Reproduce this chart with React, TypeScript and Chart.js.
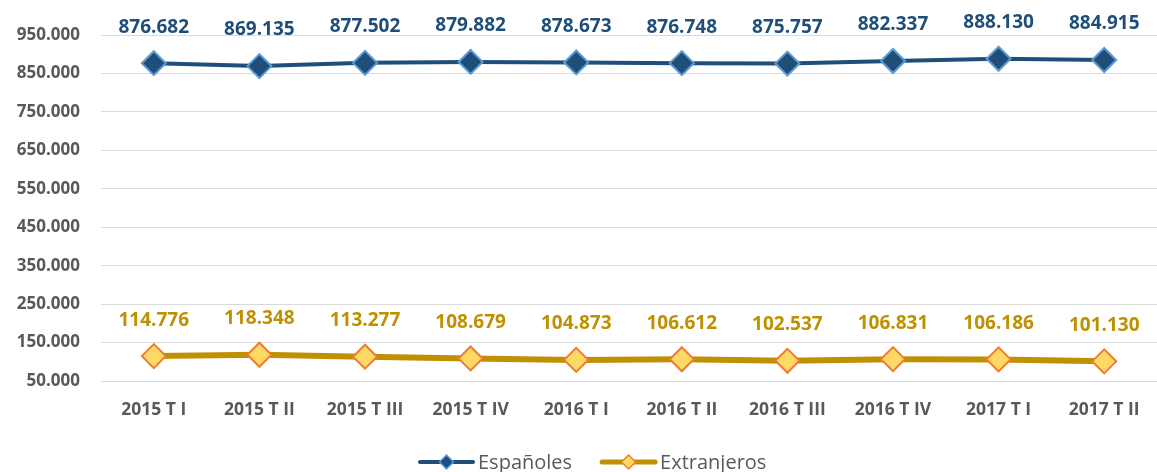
import React, { useEffect, useRef } from 'react';
import { Chart, registerables } from 'chart.js';

Chart.register(...registerables);

const categories = ['2015 T I', '2015 T II', '2015 T III', '2015 T IV', '2016 T I', '2016 T II', '2016 T III', '2016 T IV', '2017 T I', '2017 T II'];
const espanoles = [876682, 869135, 877502, 879882, 878673, 876748, 875757, 882337, 888130, 884915];
const extranjeros = [114776, 118348, 113277, 108679, 104873, 106612, 102537, 106831, 106186, 101130];
const seriesNames = ['Españoles', 'Extranjeros'];
const yMin = 50000;
const yMax = 950000;
const yStep = 100000;

const FONT = '"Open Sans", Lato, sans-serif';
const GRAY = '#595959';

const styles = [
  { line: '#1F4E79', fill: '#1F4E79', border: '#5B9BD5', width: 4 },
  { line: '#BF9000', fill: '#FFD966', border: '#ED7D31', width: 6 },
];
const labelColors = ['#1F4E79', '#BF9000'];

function fmt(v: number): string {
  return Math.round(v).toString().replace(/\B(?=(\d{3})+(?!\d))/g, '.');
}

const dataLabelPlugin = {
  id: 'dataLabels',
  afterDatasetsDraw(chart: any) {
    const ctx = chart.ctx;
    ctx.save();
    ctx.font = `bold 19px ${FONT}`;
    ctx.textAlign = 'center';
    ctx.textBaseline = 'middle';
    chart.data.datasets.forEach((ds: any, i: number) => {
      const meta = chart.getDatasetMeta(i);
      ctx.fillStyle = labelColors[i];
      meta.data.forEach((el: any, j: number) => {
        ctx.fillText(fmt(ds.data[j]), el.x, el.y - 36);
      });
    });
    ctx.restore();
  },
};

function diamond(ctx: CanvasRenderingContext2D, x: number, y: number, r: number) {
  ctx.beginPath();
  ctx.moveTo(x, y - r);
  ctx.lineTo(x + r, y);
  ctx.lineTo(x, y + r);
  ctx.lineTo(x - r, y);
  ctx.closePath();
}

const legendPlugin = {
  id: 'customLegend',
  afterDraw(chart: any) {
    const ctx = chart.ctx;
    ctx.save();
    ctx.font = `20px ${FONT}`;
    const y = 462;
    let x = 420;
    seriesNames.forEach((name, i) => {
      const s = styles[i];
      ctx.strokeStyle = s.line;
      ctx.lineWidth = i === 0 ? 4 : 5;
      ctx.lineCap = 'round';
      ctx.beginPath();
      ctx.moveTo(x, y);
      ctx.lineTo(x + 53, y);
      ctx.stroke();
      diamond(ctx, x + 26.5, y, 7);
      ctx.fillStyle = s.fill;
      ctx.fill();
      ctx.lineWidth = 1.5;
      ctx.strokeStyle = s.border;
      ctx.stroke();
      ctx.fillStyle = GRAY;
      ctx.textAlign = 'left';
      ctx.textBaseline = 'middle';
      ctx.fillText(name, x + 58, y + 1);
      x += 58 + ctx.measureText(name).width + 30;
    });
    ctx.restore();
  },
};

export default function App() {
  const ref = useRef<HTMLCanvasElement>(null);
  useEffect(() => {
    document.body.style.margin = '0';
    document.body.style.overflow = 'hidden';
    document.documentElement.style.overflow = 'hidden';
    if (!ref.current) return;
    const series = [espanoles, extranjeros];
    const chart = new Chart(ref.current, {
      type: 'line',
      data: {
        labels: categories,
        datasets: series.map((d, i) => ({
          label: seriesNames[i],
          data: d,
          borderColor: styles[i].line,
          borderWidth: styles[i].width,
          backgroundColor: styles[i].fill,
          pointStyle: 'rectRot',
          pointRadius: 12,
          pointHoverRadius: 12,
          pointBackgroundColor: styles[i].fill,
          pointBorderColor: styles[i].border,
          pointBorderWidth: 2,
          tension: 0,
          fill: false,
        })),
      },
      options: {
        animation: false,
        responsive: false,
        devicePixelRatio: 1,
        layout: { autoPadding: false, padding: { top: 35, right: 0, bottom: 20, left: 0 } },
        plugins: {
          legend: { display: false },
          tooltip: { enabled: false },
        },
        scales: {
          x: {
            offset: true,
            grid: { display: false, drawTicks: false },
            border: { display: false },
            ticks: {
              color: GRAY,
              font: { family: FONT, size: 17.5, weight: 'bold' },
              padding: 19,
              maxRotation: 0,
              autoSkip: false,
            },
            afterFit(scale: any) {
              scale.height = 71;
              scale.paddingLeft = 0;
              scale.paddingRight = 0;
            },
          },
          y: {
            min: yMin,
            max: yMax,
            grid: { color: '#D9D9D9', lineWidth: 1, drawTicks: false },
            border: { display: false },
            ticks: {
              stepSize: yStep,
              color: GRAY,
              font: { family: FONT, size: 17, weight: 'bold' },
              padding: 21,
              callback: (v: any) => fmt(Number(v)),
            },
            afterFit(scale: any) {
              scale.width = 101;
              scale.paddingTop = 0;
              scale.paddingBottom = 0;
            },
          },
        },
      },
      plugins: [dataLabelPlugin, legendPlugin],
    });
    return () => chart.destroy();
  }, []);
  return (
    <div style={{ width: 1157, height: 472, position: 'relative' }}>
      <canvas ref={ref} width={1157} height={472} />
    </div>
  );
}
